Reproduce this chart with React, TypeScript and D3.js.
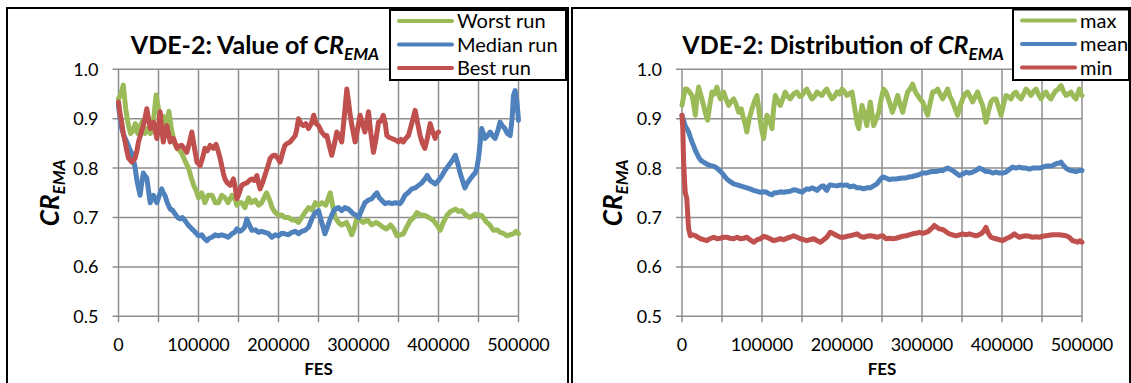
import React from "react";
import * as d3 from "d3";

const FONT = "Lato, 'Open Sans', sans-serif";

// ---------- data ----------
const xTickValues = [0, 100000, 200000, 300000, 400000, 500000];
const xGridValues = [0, 50000, 100000, 150000, 200000, 250000, 300000, 350000, 400000, 450000, 500000];
const yTickValues = [0.5, 0.6, 0.7, 0.8, 0.9, 1.0];

const worstRun: [number, number][] = [
  [0,0.94],[3000,0.95],[6000,0.968],[9000,0.92],[12000,0.89],[15000,0.87],[18000,0.875],[21000,0.89],[24000,0.87],[27000,0.885],[30000,0.895],[33000,0.87],[36000,0.88],[40000,0.87],[44000,0.9],[47000,0.948],[50000,0.92],[53000,0.89],[56000,0.905],[60000,0.88],[63000,0.915],[66000,0.88],[70000,0.85],[74000,0.84],[79000,0.83],[83000,0.815],[87500,0.80],[91000,0.78],[94000,0.765],[97000,0.755],[100000,0.74],[104000,0.75],[108000,0.73],[112000,0.745],[117000,0.745],[121000,0.73],[125000,0.73],[129000,0.745],[133000,0.74],[137000,0.73],[142000,0.745],[146000,0.735],[148000,0.725],[151000,0.73],[154000,0.73],[158000,0.72],[162500,0.74],[166000,0.73],[171000,0.735],[175000,0.725],[179000,0.73],[185000,0.75],[189000,0.735],[192000,0.72],[196000,0.71],[200000,0.705],[204000,0.705],[208000,0.70],[212500,0.70],[217000,0.695],[221000,0.695],[225000,0.69],[229000,0.70],[233000,0.71],[237500,0.72],[242000,0.715],[246000,0.73],[250000,0.725],[254000,0.73],[259000,0.725],[264600,0.75],[267000,0.73],[270800,0.70],[275000,0.69],[279000,0.685],[285000,0.69],[288000,0.68],[291600,0.665],[295000,0.68],[298000,0.70],[302000,0.695],[306000,0.69],[311000,0.695],[316600,0.685],[322000,0.69],[327000,0.685],[331000,0.68],[335000,0.677],[340000,0.685],[344000,0.677],[348000,0.663],[352000,0.665],[356000,0.667],[360000,0.68],[364600,0.694],[369000,0.70],[373000,0.71],[378000,0.705],[383000,0.704],[388000,0.70],[393700,0.694],[398000,0.685],[402000,0.674],[406000,0.69],[410400,0.704],[415000,0.712],[421000,0.717],[425000,0.712],[429000,0.714],[434000,0.705],[439600,0.70],[445800,0.707],[450000,0.705],[454000,0.704],[460400,0.69],[464000,0.685],[468700,0.674],[473000,0.675],[477000,0.67],[481000,0.668],[485400,0.663],[489000,0.665],[493750,0.667],[497000,0.672],[500000,0.667]
];

const medianRun: [number, number][] = [
  [0,0.927],[2000,0.90],[4000,0.88],[7000,0.865],[10400,0.853],[13500,0.84],[16700,0.83],[19000,0.815],[20800,0.80],[23000,0.775],[25000,0.76],[27000,0.745],[29000,0.77],[31000,0.79],[33000,0.785],[35400,0.78],[37500,0.755],[39600,0.73],[41500,0.74],[43700,0.745],[46000,0.735],[48000,0.73],[51000,0.745],[54000,0.758],[56000,0.75],[58000,0.745],[61000,0.73],[64600,0.717],[67500,0.715],[70800,0.707],[74000,0.70],[77000,0.697],[80000,0.70],[83000,0.694],[87000,0.685],[91700,0.677],[96000,0.67],[100000,0.663],[104000,0.665],[107000,0.658],[110400,0.653],[113500,0.658],[116700,0.66],[121000,0.665],[125000,0.663],[129000,0.665],[133000,0.663],[137000,0.66],[141700,0.667],[145000,0.67],[148000,0.677],[151000,0.672],[154000,0.674],[157500,0.68],[160400,0.697],[163500,0.685],[166700,0.674],[171000,0.675],[175000,0.67],[179000,0.672],[183000,0.67],[187000,0.668],[191700,0.66],[196000,0.665],[200000,0.663],[204000,0.668],[208000,0.667],[212500,0.665],[216700,0.67],[221000,0.672],[225000,0.667],[229000,0.672],[233000,0.674],[237500,0.68],[241700,0.697],[245800,0.71],[250000,0.714],[254000,0.69],[258000,0.667],[261000,0.68],[264600,0.697],[268000,0.71],[270800,0.717],[275000,0.72],[279000,0.714],[283000,0.72],[287500,0.717],[293750,0.707],[297000,0.705],[300000,0.70],[304000,0.715],[308000,0.73],[312000,0.735],[316600,0.738],[320000,0.745],[323000,0.75],[326000,0.74],[329000,0.735],[333000,0.728],[337500,0.73],[342000,0.728],[346000,0.73],[352000,0.728],[355000,0.735],[358000,0.745],[362000,0.75],[366600,0.758],[371000,0.76],[375000,0.765],[379000,0.77],[383000,0.778],[386000,0.785],[389600,0.775],[395800,0.768],[400000,0.775],[404000,0.784],[408000,0.795],[412500,0.805],[417000,0.815],[421000,0.826],[424000,0.81],[427000,0.79],[430000,0.775],[433000,0.76],[436000,0.77],[439600,0.778],[443000,0.785],[445800,0.79],[448000,0.80],[450000,0.82],[452000,0.85],[454000,0.88],[458000,0.86],[461000,0.865],[464600,0.873],[468000,0.865],[470800,0.86],[474000,0.875],[477000,0.893],[480000,0.885],[483000,0.88],[486000,0.87],[489600,0.866],[492000,0.90],[493750,0.947],[495800,0.957],[498000,0.935],[500000,0.897]
];

const bestRun: [number, number][] = [
  [0,0.934],[2000,0.91],[4000,0.893],[6000,0.87],[8300,0.853],[10400,0.835],[12500,0.82],[16700,0.812],[20800,0.82],[23000,0.835],[25000,0.853],[28000,0.87],[31000,0.886],[33000,0.90],[35400,0.92],[37500,0.90],[39600,0.88],[41500,0.885],[43700,0.893],[46000,0.875],[48000,0.86],[50000,0.885],[52000,0.914],[54000,0.88],[56000,0.853],[58000,0.87],[60400,0.886],[62500,0.87],[64600,0.853],[66700,0.86],[68700,0.86],[71000,0.85],[73000,0.84],[76000,0.845],[79000,0.846],[82000,0.84],[85400,0.832],[88500,0.85],[91700,0.873],[95000,0.84],[98000,0.812],[102000,0.805],[105000,0.82],[108000,0.84],[111000,0.835],[114600,0.846],[118700,0.84],[122000,0.848],[125000,0.832],[127000,0.82],[129000,0.805],[131000,0.79],[133000,0.778],[136000,0.77],[139600,0.765],[143700,0.778],[146000,0.76],[148000,0.738],[151000,0.75],[154000,0.765],[157000,0.768],[160400,0.77],[163500,0.775],[166700,0.778],[170000,0.775],[173000,0.785],[175000,0.77],[177000,0.758],[180000,0.77],[183000,0.785],[186000,0.80],[189600,0.82],[192700,0.825],[195800,0.826],[199000,0.82],[202000,0.812],[205000,0.83],[208000,0.846],[211000,0.85],[214600,0.853],[218000,0.86],[221000,0.866],[223000,0.88],[225000,0.90],[228000,0.89],[231000,0.886],[234000,0.89],[237500,0.88],[241000,0.89],[244000,0.907],[247000,0.89],[250000,0.886],[254000,0.873],[258000,0.865],[260400,0.866],[263500,0.845],[266600,0.826],[270000,0.85],[272900,0.873],[276000,0.865],[279000,0.853],[282000,0.9],[285400,0.96],[287500,0.935],[289600,0.907],[292500,0.88],[295800,0.853],[299000,0.88],[302000,0.907],[305000,0.89],[308000,0.873],[310500,0.895],[312500,0.914],[315500,0.87],[318700,0.832],[322000,0.86],[325000,0.893],[328000,0.895],[331000,0.907],[333500,0.89],[335400,0.866],[338500,0.862],[341700,0.86],[346000,0.857],[350000,0.853],[353000,0.858],[356000,0.853],[359000,0.86],[362500,0.866],[366500,0.89],[370800,0.917],[374000,0.89],[377000,0.866],[380000,0.85],[383000,0.84],[386000,0.86],[389600,0.89],[392500,0.875],[395800,0.86],[398000,0.87],[400000,0.873]
];

const maxCR: [number, number][] = [
  [0,0.927],[2000,0.945],[4000,0.96],[6000,0.96],[9000,0.955],[12500,0.947],[14500,0.93],[16700,0.907],[18500,0.94],[20800,0.964],[24000,0.945],[27000,0.927],[29500,0.91],[32000,0.897],[35000,0.93],[37500,0.954],[40500,0.95],[43700,0.964],[46000,0.95],[48000,0.94],[50000,0.945],[52000,0.954],[55000,0.94],[58300,0.927],[61500,0.935],[64600,0.94],[67500,0.93],[70800,0.913],[74000,0.92],[77000,0.90],[79000,0.89],[81000,0.873],[84000,0.9],[87500,0.92],[90500,0.935],[93700,0.947],[96000,0.92],[98000,0.893],[100000,0.875],[102000,0.86],[104000,0.885],[106000,0.907],[109000,0.9],[112500,0.88],[114500,0.92],[116700,0.947],[120000,0.935],[123000,0.927],[126000,0.94],[129000,0.954],[132000,0.945],[135400,0.94],[139500,0.95],[143700,0.954],[147000,0.945],[150000,0.947],[153000,0.955],[156000,0.96],[159000,0.95],[162500,0.94],[165500,0.945],[168700,0.954],[172000,0.95],[175000,0.947],[178000,0.955],[181000,0.96],[184000,0.95],[187500,0.94],[190500,0.945],[193700,0.954],[197000,0.95],[200000,0.96],[203000,0.955],[206000,0.947],[209000,0.95],[212500,0.954],[214500,0.935],[216700,0.913],[219000,0.89],[221000,0.88],[223000,0.905],[225000,0.927],[228000,0.91],[231000,0.886],[233000,0.91],[235400,0.934],[237500,0.91],[239600,0.886],[243000,0.9],[246000,0.913],[249000,0.94],[252000,0.96],[255000,0.954],[259000,0.935],[263000,0.913],[266500,0.93],[269600,0.947],[272500,0.93],[275800,0.913],[279000,0.935],[282000,0.954],[285000,0.96],[288300,0.97],[291500,0.955],[294600,0.947],[297500,0.94],[300800,0.934],[304000,0.92],[307000,0.907],[310000,0.93],[313300,0.954],[316500,0.955],[319600,0.96],[322500,0.95],[325800,0.94],[329000,0.95],[332000,0.96],[335000,0.945],[338300,0.934],[341500,0.92],[344600,0.907],[347500,0.925],[350800,0.94],[354000,0.95],[357000,0.954],[360000,0.945],[363300,0.934],[366500,0.945],[369600,0.954],[372500,0.94],[375800,0.927],[378000,0.91],[380000,0.893],[383000,0.915],[386200,0.934],[389500,0.94],[392500,0.94],[395500,0.925],[398800,0.907],[402000,0.93],[405000,0.947],[408000,0.945],[411200,0.94],[414500,0.95],[417500,0.954],[420500,0.945],[423800,0.94],[427000,0.95],[430000,0.96],[433000,0.955],[436200,0.947],[439500,0.955],[442500,0.96],[445500,0.95],[448800,0.94],[452000,0.95],[455000,0.954],[458000,0.945],[461200,0.94],[464500,0.95],[467500,0.957],[470500,0.96],[473800,0.967],[477000,0.955],[480000,0.947],[483000,0.95],[486200,0.954],[489500,0.945],[492500,0.94],[494500,0.95],[496700,0.96],[498500,0.95],[500000,0.947]
];

const meanCR: [number, number][] = [
  [0,0.907],[4000,0.886],[8300,0.873],[10500,0.862],[12500,0.853],[14500,0.845],[16700,0.836],[20800,0.822],[24000,0.815],[27000,0.812],[31000,0.808],[35400,0.805],[39500,0.804],[43700,0.80],[47000,0.795],[50000,0.79],[53000,0.784],[56000,0.778],[60000,0.773],[64600,0.768],[69000,0.766],[73000,0.764],[77000,0.762],[81000,0.76],[85000,0.758],[89600,0.755],[94000,0.753],[98000,0.751],[102000,0.752],[106000,0.751],[109000,0.748],[112500,0.746],[115500,0.75],[118700,0.75],[123000,0.752],[127000,0.751],[131000,0.752],[135400,0.753],[139500,0.756],[143700,0.755],[147000,0.753],[150000,0.751],[153000,0.755],[156000,0.758],[159000,0.757],[162500,0.76],[165500,0.758],[168700,0.755],[172000,0.76],[175000,0.764],[177000,0.764],[179000,0.758],[181000,0.755],[183000,0.762],[185000,0.766],[189000,0.765],[193700,0.764],[198000,0.766],[202000,0.765],[206000,0.766],[210000,0.762],[214500,0.764],[218700,0.76],[223000,0.76],[227000,0.758],[231000,0.76],[235400,0.76],[239500,0.764],[243700,0.768],[246700,0.775],[250800,0.782],[255000,0.78],[259000,0.777],[263500,0.778],[267500,0.778],[271500,0.779],[275800,0.78],[280000,0.78],[284000,0.782],[288000,0.783],[292500,0.785],[296500,0.787],[300800,0.79],[305000,0.79],[309000,0.792],[313000,0.793],[317500,0.793],[321500,0.795],[325800,0.795],[329000,0.798],[332000,0.80],[335000,0.798],[338300,0.795],[342500,0.79],[346700,0.785],[351000,0.788],[355000,0.792],[359000,0.79],[363300,0.792],[367500,0.795],[371700,0.80],[376000,0.797],[380000,0.793],[384000,0.793],[388300,0.79],[392500,0.792],[396700,0.79],[401000,0.79],[405000,0.792],[409000,0.797],[413300,0.802],[417500,0.80],[421700,0.802],[426000,0.80],[430000,0.80],[434000,0.798],[438300,0.80],[442500,0.80],[446700,0.80],[451000,0.802],[455000,0.804],[459000,0.804],[463300,0.805],[466500,0.808],[469600,0.81],[472000,0.81],[473800,0.812],[477000,0.805],[480000,0.80],[483000,0.797],[486200,0.795],[489500,0.794],[492500,0.793],[496000,0.795],[500000,0.795]
];

const minCR: [number, number][] = [
  [0,0.907],[1000,0.88],[2000,0.812],[3000,0.78],[4000,0.751],[5000,0.745],[6000,0.738],[7000,0.71],[8300,0.677],[10400,0.663],[13500,0.665],[16700,0.663],[20000,0.66],[23000,0.657],[27000,0.655],[31000,0.653],[35000,0.657],[39600,0.66],[44000,0.657],[48000,0.658],[52000,0.66],[56000,0.66],[60000,0.658],[64600,0.657],[69000,0.66],[73000,0.657],[77000,0.658],[81000,0.66],[85000,0.655],[89600,0.65],[94000,0.655],[98000,0.657],[102000,0.662],[106000,0.66],[110000,0.657],[114600,0.653],[119000,0.655],[123000,0.657],[127000,0.655],[131000,0.658],[135000,0.66],[139600,0.663],[144000,0.66],[148000,0.657],[152000,0.655],[156000,0.653],[160000,0.655],[164600,0.657],[169000,0.653],[173000,0.65],[177000,0.655],[181000,0.66],[185400,0.67],[189500,0.667],[193700,0.663],[198000,0.66],[202000,0.66],[206000,0.662],[210000,0.663],[214500,0.665],[218700,0.667],[223000,0.662],[227000,0.66],[231000,0.662],[235400,0.663],[239500,0.662],[243700,0.66],[247500,0.662],[251000,0.663],[255000,0.657],[259000,0.658],[263300,0.657],[267500,0.658],[271700,0.66],[276000,0.662],[280000,0.663],[284000,0.665],[288300,0.667],[292500,0.668],[296700,0.67],[301000,0.668],[305000,0.67],[308000,0.672],[311200,0.677],[313500,0.68],[315400,0.684],[318500,0.68],[321700,0.677],[325000,0.676],[327900,0.674],[331000,0.67],[334200,0.667],[338300,0.665],[342500,0.663],[346700,0.665],[350800,0.667],[355000,0.665],[359200,0.667],[363300,0.665],[367500,0.663],[371000,0.665],[373700,0.667],[377000,0.672],[380000,0.68],[383000,0.668],[386200,0.66],[389500,0.658],[392500,0.657],[396700,0.655],[400800,0.653],[405000,0.657],[409200,0.66],[412500,0.663],[415400,0.667],[418500,0.663],[421700,0.66],[426000,0.662],[430000,0.663],[434000,0.662],[438300,0.66],[442500,0.661],[446700,0.66],[451000,0.662],[455000,0.663],[459000,0.664],[463300,0.665],[467500,0.665],[471700,0.665],[476000,0.664],[480000,0.663],[484000,0.66],[488300,0.653],[491500,0.652],[494600,0.65],[497500,0.653],[500000,0.65]
];

const GREEN = "#9bbb59";
const BLUE = "#4f81bd";
const RED = "#c0504d";
const GRID = "#8e8e8e";

type Series = { name: string; color: string; data: [number, number][] };

const leftSeries: Series[] = [
  { name: "Worst run", color: GREEN, data: worstRun },
  { name: "Median run", color: BLUE, data: medianRun },
  { name: "Best run", color: RED, data: bestRun },
];
const rightSeries: Series[] = [
  { name: "max", color: GREEN, data: maxCR },
  { name: "mean", color: BLUE, data: meanCR },
  { name: "min", color: RED, data: minCR },
];

type PanelProps = {
  frameX: number;
  frameW: number;
  plotLeft: number;
  titleX: number;
  titleMain: string;
  legendBox: { x: number; y: number; w: number; h: number };
  series: Series[];
};

function Panel({ frameX, frameW, plotLeft, titleX, titleMain, legendBox, series }: PanelProps) {
  const plotTop = 69.3;
  const plotBottom = 316.3;
  const plotW = 400;
  const x = d3.scaleLinear().domain([0, 500000]).range([plotLeft, plotLeft + plotW]);
  const y = d3.scaleLinear().domain([0.5, 1.0]).range([plotBottom, plotTop]);
  const line = d3
    .line<[number, number]>()
    .x((d) => x(d[0]))
    .y((d) => y(d[1]));
  const yMid = (plotTop + plotBottom) / 2;
  const legRowY = [legendBox.y + 11, legendBox.y + 34.5, legendBox.y + 58];

  return (
    <g>
      {/* frame */}
      <rect x={frameX} y={8} width={frameW} height={420} fill="#fff" stroke="#000" strokeWidth={2} />

      {/* grid */}
      {xGridValues.map((v) => (
        <line key={"gx" + v} x1={x(v)} x2={x(v)} y1={plotTop} y2={plotBottom + 6} stroke={GRID} strokeWidth={1.5} />
      ))}
      {yTickValues.map((v) => (
        <line key={"gy" + v} x1={plotLeft - 6} x2={plotLeft + plotW} y1={y(v)} y2={y(v)} stroke={GRID} strokeWidth={1.5} />
      ))}

      {/* tick labels */}
      {yTickValues.map((v) => (
        <text key={"ty" + v} x={plotLeft - 20} y={y(v)} dy="0.36em" textAnchor="end" fontFamily={FONT} fontSize={18} fill="#000">
          {v.toFixed(1)}
        </text>
      ))}
      {xTickValues.map((v) => (
        <text key={"tx" + v} x={x(v)} y={351} textAnchor="middle" fontFamily={FONT} fontSize={18} fill="#000">
          {String(v)}
        </text>
      ))}

      {/* axis titles */}
      <text x={x(250000)} y={375} textAnchor="middle" fontFamily={FONT} fontSize={17} fontWeight="bold" fill="#000">
        FES
      </text>
      <text
        transform={`translate(${plotLeft - 60},${yMid}) rotate(-90)`}
        textAnchor="middle"
        fontFamily={FONT}
        fontSize={26}
        fontWeight="bold"
        fontStyle="italic"
        fill="#000"
      >
        CR
        <tspan fontSize={17} dy={6}>EMA</tspan>
      </text>

      {/* title */}
      <text x={titleX} y={54} textAnchor="middle" fontFamily={FONT} fontSize={25} fontWeight="bold" fill="#000">
        {titleMain}
        <tspan fontStyle="italic">CR</tspan>
        <tspan fontStyle="italic" fontSize={17} dy={6}>EMA</tspan>
      </text>

      {/* series */}
      {series.map((s) => (
        <path
          key={s.name}
          d={line(s.data) || ""}
          fill="none"
          stroke={s.color}
          strokeWidth={5}
          strokeLinejoin="round"
          strokeLinecap="round"
        />
      ))}

      {/* legend */}
      <rect x={legendBox.x} y={legendBox.y} width={legendBox.w} height={legendBox.h} fill="#fff" stroke="#000" strokeWidth={2} />
      {series.map((s, i) => (
        <g key={"leg" + s.name}>
          <line
            x1={legendBox.x + 9}
            x2={legendBox.x + 62}
            y1={legRowY[i]}
            y2={legRowY[i]}
            stroke={s.color}
            strokeWidth={4}
            strokeLinecap="round"
          />
          <text x={legendBox.x + 67} y={legRowY[i]} dy="0.36em" fontFamily={FONT} fontSize={20} fill="#000">
            {s.name}
          </text>
        </g>
      ))}
    </g>
  );
}

export default function App() {
  return (
    <svg
      width={1131}
      height={383}
      style={{ position: "absolute", left: 0, top: 0, background: "#fff" }}
    >
      <rect x={0} y={0} width={1131} height={383} fill="#fff" />
      <Panel
        frameX={7}
        frameW={561}
        plotLeft={118.5}
        titleX={255}
        titleMain="VDE-2: Value of "
        legendBox={{ x: 390, y: 10, w: 176, h: 70 }}
        series={leftSeries}
      />
      <Panel
        frameX={572}
        frameW={558}
        plotLeft={682}
        titleX={843}
        titleMain="VDE-2: Distribution of "
        legendBox={{ x: 1013, y: 9.5, w: 116, h: 70.5 }}
        series={rightSeries}
      />
    </svg>
  );
}
